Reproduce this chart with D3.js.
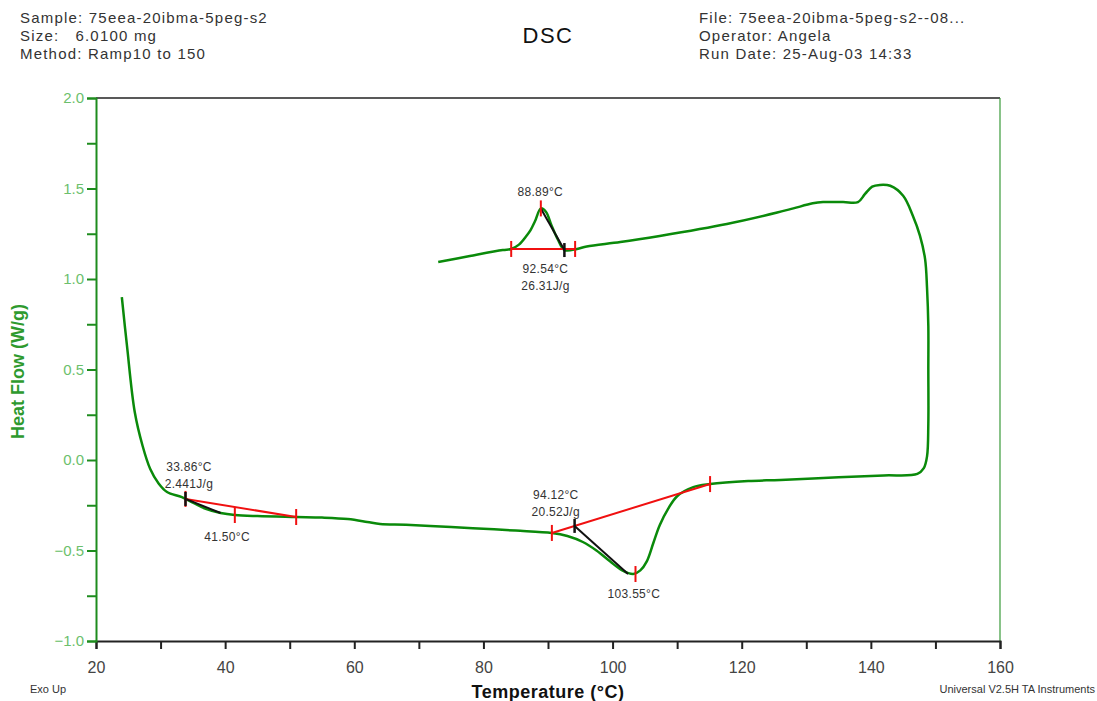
<!DOCTYPE html>
<html>
<head>
<meta charset="utf-8">
<script src="https://cdn.jsdelivr.net/npm/d3@7"></script>
<style>
  body { margin: 0; background: #fff; }
  text { font-family: "Liberation Sans", Arial, sans-serif; }
</style>
</head>
<body>
<div id="chart"></div>
<script>
(function () {

// curve traced along the path (heating along bottom, then cooling back along top)
const tempC = [24.0, 24.8, 26.0, 27.2, 28.4, 29.7, 31.0, 33.3, 35.0, 37.0, 39.3, 41.5, 45.0, 51.0, 55.0, 59.0, 62.0, 64.0, 68.0, 75.0, 80.0, 85.0, 90.6, 93.0, 95.4, 97.5, 99.6, 101.5, 103.2, 104.3, 105.3, 106.3, 107.3, 108.6, 110.0, 112.5, 115.1, 121.0, 126.0, 135.0, 142.0, 147.2, 148.2, 148.7, 148.9, 148.9, 148.9, 148.7, 148.4, 147.6, 146.5, 145.0, 143.0, 141.4, 140.2, 139.1, 138.0, 135.7, 132.6, 131.0, 128.0, 125.5, 117.7, 107.3, 101.2, 96.0, 94.5, 92.54, 91.5, 90.5, 89.7, 88.9, 88.0, 87.3, 86.7, 85.5, 84.3, 83.0, 77.9, 73.0];
const heatFlow = [0.90, 0.63, 0.265, 0.08, -0.05, -0.13, -0.177, -0.205, -0.235, -0.27, -0.293, -0.304, -0.31, -0.315, -0.318, -0.326, -0.342, -0.354, -0.358, -0.37, -0.38, -0.39, -0.403, -0.42, -0.453, -0.50, -0.56, -0.61, -0.63, -0.61, -0.56, -0.46, -0.36, -0.27, -0.20, -0.15, -0.133, -0.116, -0.11, -0.095, -0.085, -0.077, -0.045, 0.02, 0.2, 0.5, 0.74, 0.95, 1.11, 1.24, 1.35, 1.46, 1.515, 1.52, 1.51, 1.47, 1.425, 1.425, 1.425, 1.418, 1.39, 1.367, 1.304, 1.238, 1.204, 1.18, 1.166, 1.16, 1.22, 1.30, 1.37, 1.39, 1.32, 1.27, 1.24, 1.19, 1.166, 1.16, 1.127, 1.094];

// analysis lines: red baselines, black onset lines
const redLines = [
  [[84.3, 1.166], [94.2, 1.166]],
  [[33.86, -0.215], [51.0, -0.315]],
  [[90.6, -0.403], [115.1, -0.133]]
];
const blackLines = [
  [[88.89, 1.39], [92.54, 1.16]],
  [[33.86, -0.215], [39.3, -0.293]],
  [[94.12, -0.364], [102.4, -0.63]]
];
const redTicks = [[84.3, 1.166], [94.2, 1.166], [88.89, 1.39], [33.86, -0.215], [41.5, -0.304], [51.0, -0.315], [90.6, -0.403], [115.1, -0.133], [103.55, -0.63]];
const blackTicks = [[92.54, 1.16], [33.86, -0.215], [94.12, -0.364]];

// labels: [temperature, heat flow, lines of text, pixel offset]
const labels = [
  [88.8, 1.39, ["88.89°C"], -12],
  [89.6, 1.16, ["92.54°C", "26.31J/g"], 23],
  [34.4, -0.215, ["33.86°C", "2.441J/g"], -28],
  [40.3, -0.304, ["41.50°C"], 26],
  [91.2, -0.364, ["94.12°C", "20.52J/g"], -27],
  [103.3, -0.63, ["103.55°C"], 24]
];

const headerLeft = ["Sample: 75eea-20ibma-5peg-s2", "Size:   6.0100 mg", "Method: Ramp10 to 150"];
const headerRight = ["File: 75eea-20ibma-5peg-s2--08...", "Operator: Angela", "Run Date: 25-Aug-03 14:33"];

const xTicks = d3.range(20, 161, 10);
const yTicks = d3.range(-1, 2.01, 0.25);

const W = 1097, H = 701;
const left = 96, right = 1000, top = 98, bottom = 641;

const svg = d3.select("#chart").append("svg")
  .attr("width", W)
  .attr("height", H);

const x = d3.scaleLinear().domain([20, 160]).range([left, right]);
const y = d3.scaleLinear().domain([-1, 2]).range([bottom, top]);

// header
svg.selectAll(".hl").data(headerLeft).join("text")
  .attr("x", 20).attr("y", (d, i) => 23 + i * 18)
  .attr("font-size", 15).attr("letter-spacing", 1.2).attr("fill", "#333")
  .attr("xml:space", "preserve")
  .text(d => d);
svg.selectAll(".hr").data(headerRight).join("text")
  .attr("x", 699).attr("y", (d, i) => 23 + i * 18)
  .attr("font-size", 15).attr("letter-spacing", 1.2).attr("fill", "#333")
  .text(d => d);
svg.append("text").attr("x", 548).attr("y", 43)
  .attr("text-anchor", "middle").attr("font-size", 22).attr("letter-spacing", 1.5).attr("fill", "#111")
  .text("DSC");

// frame
svg.append("line").attr("x1", left).attr("x2", right).attr("y1", top).attr("y2", top)
  .attr("stroke", "#222").attr("stroke-width", 1.5);
svg.append("line").attr("x1", right).attr("x2", right).attr("y1", top).attr("y2", bottom)
  .attr("stroke", "#3a9a3a").attr("stroke-width", 1.2);

// x axis
const xAxis = svg.append("g")
  .attr("transform", "translate(0," + bottom + ")")
  .call(d3.axisBottom(x).tickValues(xTicks).tickSize(8).tickFormat(d => d % 20 === 0 ? d : ""));
xAxis.select(".domain").attr("stroke", "#222").attr("stroke-width", 2);
xAxis.selectAll(".tick line").attr("stroke", "#222").attr("stroke-width", 2);
xAxis.selectAll(".tick text").attr("font-size", 16).attr("fill", "#444").attr("dy", "1.3em")
  .attr("font-family", "Liberation Sans, Arial, sans-serif");

// y axis
const yAxis = svg.append("g")
  .attr("transform", "translate(" + left + ",0)")
  .call(d3.axisLeft(y).tickValues(yTicks).tickSize(9)
    .tickFormat(d => Math.abs(d * 2 - Math.round(d * 2)) < 1e-6 ? d3.format(".1f")(d).replace("-", "\u2212") : ""));
yAxis.select(".domain").attr("stroke", "#1e8c1e").attr("stroke-width", 2);
yAxis.selectAll(".tick line").attr("stroke", "#1e8c1e").attr("stroke-width", 2);
yAxis.selectAll(".tick text").attr("font-size", 15).attr("fill", "#6cbf6c").attr("x", -12)
  .attr("font-family", "Liberation Sans, Arial, sans-serif");

// axis titles
svg.append("text").attr("x", 548).attr("y", 698)
  .attr("text-anchor", "middle").attr("font-size", 18).attr("letter-spacing", 0.5)
  .attr("font-weight", "bold").attr("fill", "#111")
  .text("Temperature (°C)");
svg.append("text")
  .attr("transform", "translate(24," + (y(0.5) + 2) + ") rotate(-90)")
  .attr("text-anchor", "middle").attr("font-size", 18).attr("font-weight", "bold").attr("fill", "#2e9a2e")
  .text("Heat Flow (W/g)");
svg.append("text").attr("x", 30).attr("y", 693)
  .attr("font-size", 11).attr("fill", "#333").text("Exo Up");
svg.append("text").attr("x", 1095).attr("y", 693).attr("text-anchor", "end")
  .attr("font-size", 11).attr("fill", "#333").text("Universal V2.5H TA Instruments");

// curve
const pts = tempC.map((t, i) => [t, heatFlow[i]]);
const line = d3.line()
  .x(d => x(d[0])).y(d => y(d[1]))
  .curve(d3.curveCatmullRom.alpha(0.5));
svg.append("path").datum(pts)
  .attr("d", line)
  .attr("fill", "none").attr("stroke", "#0a8a0a").attr("stroke-width", 2.5)
  .attr("stroke-linejoin", "round");

// analysis
const straight = d3.line().x(d => x(d[0])).y(d => y(d[1]));
svg.selectAll(".red-line").data(redLines).join("path")
  .attr("d", straight).attr("stroke", "#f01010").attr("stroke-width", 2).attr("fill", "none");
svg.selectAll(".black-line").data(blackLines).join("path")
  .attr("d", straight).attr("stroke", "#111").attr("stroke-width", 2).attr("fill", "none");
svg.selectAll(".red-tick").data(redTicks).join("line")
  .attr("x1", d => x(d[0])).attr("x2", d => x(d[0]))
  .attr("y1", d => y(d[1]) - 8).attr("y2", d => y(d[1]) + 8)
  .attr("stroke", "#f01010").attr("stroke-width", 2);
svg.selectAll(".black-tick").data(blackTicks).join("line")
  .attr("x1", d => x(d[0])).attr("x2", d => x(d[0]))
  .attr("y1", d => y(d[1]) - 7).attr("y2", d => y(d[1]) + 7)
  .attr("stroke", "#111").attr("stroke-width", 2.5);

// annotation text
labels.forEach(l => {
  const t = svg.append("text")
    .attr("x", x(l[0])).attr("y", y(l[1]) + l[3])
    .attr("text-anchor", "middle").attr("font-size", 12).attr("letter-spacing", 0.3).attr("fill", "#333");
  l[2].forEach((s, i) => {
    t.append("tspan").attr("x", x(l[0])).attr("dy", i === 0 ? 0 : 17).text(s);
  });
});

})()
</script>
</body>
</html>
